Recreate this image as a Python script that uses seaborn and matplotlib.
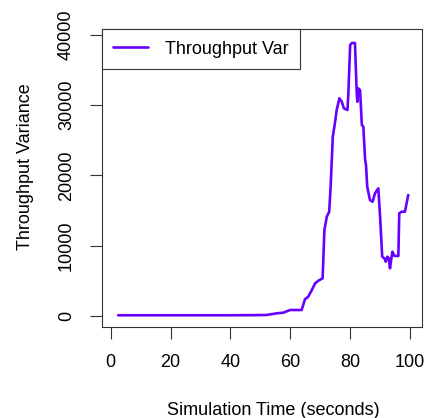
import matplotlib
matplotlib.use("Agg")
import matplotlib.pyplot as plt
import seaborn as sns
import pandas as pd

# simulation time (s) and throughput variance
sim_time = [2.5, 10, 20, 30, 40, 48, 52.1, 55.5, 57.7, 59.9, 63.8, 64.9, 66.0,
            67.2, 68.3, 69.4, 70.8, 71.4, 72.2, 73.0, 73.5, 74.2, 74.9, 75.5,
            76.4, 77.2, 77.9, 79.1, 79.4, 80.0, 80.6, 81.6, 82.2, 82.4, 82.7,
            83.3, 83.9, 84.4, 85.0, 85.3, 85.7, 86.6, 87.5, 88.3, 89.4, 90.0,
            90.7, 91.4, 91.9, 92.4, 92.9, 93.3, 94.1, 94.8, 96.1, 96.4, 97.2,
            98.3, 99.4]
throughput_var = [60, 60, 60, 60, 60, 80, 100, 340, 430, 810, 810, 2340, 2710,
                  3660, 4620, 4990, 5330, 12210, 14110, 14820, 18620, 25510,
                  27420, 29310, 30980, 30490, 29550, 29310, 31690, 38570, 38860,
                  38860, 31690, 30490, 32400, 32160, 27170, 26930, 22190, 21470,
                  18380, 16490, 16240, 17440, 18150, 14110, 8410, 8180, 7690,
                  8410, 8180, 6750, 9120, 8510, 8510, 14590, 14820, 14820, 17200]

x_ticks = [0, 20, 40, 60, 80, 100]
y_ticks = [0, 10000, 20000, 30000, 40000]

df = pd.DataFrame({"time": sim_time, "var": throughput_var})

sns.set_style("white")
plt.rcParams["font.family"] = ["Liberation Sans", "DejaVu Sans"]
plt.rcParams["text.color"] = "black"
plt.rcParams["axes.labelcolor"] = "black"
plt.rcParams["xtick.color"] = "#333333"
plt.rcParams["ytick.color"] = "#333333"
plt.rcParams["xtick.labelcolor"] = "black"
plt.rcParams["ytick.labelcolor"] = "black"

fs = 13
fig = plt.figure(figsize=(4.28, 4.18), dpi=100)
ax = fig.add_axes([0.2376, 0.2184, 0.9853 - 0.2376, 0.9306 - 0.2184])

sns.lineplot(data=df, x="time", y="var", ax=ax, color="#6600ff",
             linewidth=1.9, label="Throughput Var")

ax.set_xlim(-3.0, 103.9)
ax.set_ylim(-1570, 40850)
ax.set_xticks(x_ticks)
ax.set_yticks(y_ticks)
ax.set_xticklabels([str(v) for v in x_ticks], fontsize=fs)
ax.set_yticklabels([str(v) for v in y_ticks], fontsize=fs, rotation=90,
                   va="center")
ax.tick_params(direction="out", length=8.3, width=0.8,
               pad=11, left=True, bottom=True)

for s in ax.spines.values():
    s.set_visible(True)
    s.set_color("#333333")
    s.set_linewidth(0.8)

ax.set_xlabel("Simulation Time (seconds)", fontsize=fs)
ax.set_ylabel("Throughput Variance", fontsize=fs)
# labels in the reference sit a little off the box centre
ax.xaxis.set_label_coords(0.535, -0.254)
ax.yaxis.set_label_coords(-0.212, 0.538)

leg = ax.legend(loc="upper left", borderaxespad=0, fancybox=False,
                framealpha=1, edgecolor="#333333", fontsize=fs,
                handlelength=1.9, handletextpad=0.95, borderpad=0.65)
leg.get_frame().set_linewidth(0.8)

fig.savefig("out.png", dpi=100)
